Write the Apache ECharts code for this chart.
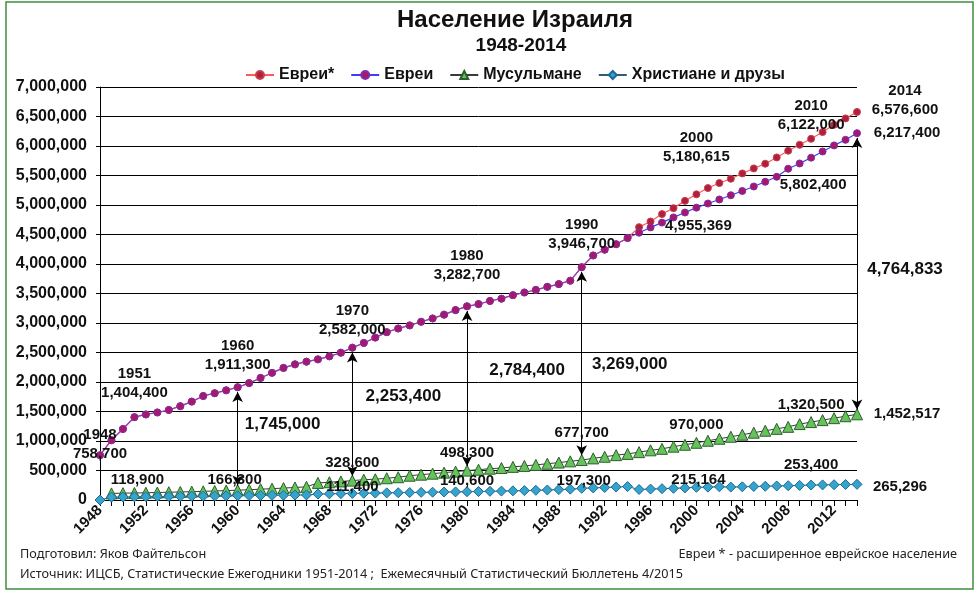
<!DOCTYPE html>
<html>
<head>
<meta charset="utf-8">
<script src="https://cdn.jsdelivr.net/npm/echarts@6/dist/echarts.min.js"></script>
<style>
  html, body { margin: 0; padding: 0; background: #fff; }
  #chart { width: 978px; height: 591px; }
</style>
</head>
<body>
<div id="chart"></div>
<script>
// ---- данные (1948-2014) ----
const years = [];
for (let y = 1948; y <= 2014; y++) years.push(String(y));

// Евреи
const jews = [
  758700, 1013900, 1203000, 1404400, 1450200, 1483600, 1526000, 1590500, 1667500, 1762700,
  1810200, 1858800, 1911300, 1981700, 2068900, 2155500, 2239200, 2299100, 2344900, 2383600,
  2434800, 2496600, 2582000, 2662000, 2752700, 2845000, 2906900, 2959400, 3020400, 3077300,
  3141200, 3218400, 3282700, 3320300, 3373200, 3412500, 3471700, 3517200, 3561400, 3612900,
  3659000, 3717100, 3946700, 4144600, 4242500, 4335200, 4441100, 4530000, 4620000, 4701600,
  4790000, 4872800, 4955369, 5025000, 5094200, 5165400, 5237600, 5313800, 5393400, 5478200,
  5615000, 5703700, 5802400, 5907500, 6010000, 6104500, 6217400
];

// Евреи* (расширенное еврейское население), отличается с 1995 г.
const jewsExtFrom1995 = [
  4625000, 4720000, 4846000, 4947000, 5070000, 5180615, 5287000, 5372000, 5445000, 5535000,
  5620000, 5700000, 5806000, 5920000, 6020000, 6122000, 6236000, 6360000, 6468000, 6576600
];

// Мусульмане (1948 - нет данных)
const muslims = [
  null, 111500, 116100, 118900, 122500, 127000, 131800, 136300, 141400, 146800,
  152800, 159200, 166300, 174000, 183000, 192000, 202000, 212400, 223000, 289600,
  300800, 314500, 328600, 344000, 352000, 368900, 385600, 411400, 429100, 446500,
  463600, 481100, 498300, 513700, 530800, 542200, 561500, 577600, 595000, 614500,
  634600, 655200, 677700, 705000, 733000, 760000, 781000, 811000, 842000, 867000,
  904000, 936000, 970000, 1004000, 1038000, 1072000, 1107000, 1141000, 1174000, 1206000,
  1240000, 1286500, 1320500, 1354000, 1387000, 1420000, 1452517
];

// Христиане и друзы
const christians = [
  0, 48500, 51000, 54000, 56500, 58500, 60500, 62500, 64500, 66500,
  68500, 70500, 72900, 75000, 77000, 79000, 81000, 84000, 86000, 101000,
  104500, 108000, 111400, 114500, 117500, 120500, 123500, 126500, 129500, 132000,
  135000, 137500, 140600, 144000, 147500, 151000, 155000, 159000, 164000, 170000,
  176000, 184000, 197300, 205000, 212000, 220000, 228000, 178000, 185000, 192000,
  198000, 205000, 215164, 218000, 224000, 219000, 224000, 229000, 233000, 238000,
  242000, 247000, 253400, 256000, 259000, 262000, 265296
];

// подписи разницы (Евреи - Мусульмане)
const gapYears = ['1960', '1970', '1980', '1990', '2014'];
const gapLabels = ['1,745,000', '2,253,400', '2,784,400', '3,269,000', '4,764,833'];

// ---- построение ----
const jewsExt = jews.map((v, i) => (i < 47 ? v : jewsExtFrom1995[i - 47]));
const idx = y => years.indexOf(String(y));
const fmt = v => Number(v).toLocaleString('en-US');

const boldFont = '"Liberation Sans", Arial, sans-serif';
const narrowFont = '"Liberation Sans Narrow", "Liberation Sans", Arial, sans-serif';

// подпись-аннотация у точки ряда
function note(data, year, withYear, offset, size) {
  const i = idx(year);
  const text = withYear ? year + '\n' + fmt(data[i]) : fmt(data[i]);
  return {
    coord: [i, data[i]],
    symbol: 'circle',
    symbolSize: 1,
    itemStyle: { color: 'rgba(0,0,0,0)' },
    label: {
      show: true,
      position: 'inside',
      offset: offset,
      formatter: text,
      color: '#111',
      fontFamily: boldFont,
      fontWeight: 'bold',
      fontSize: size || 15,
      lineHeight: 19,
      align: 'center'
    }
  };
}

const labelCommon = { silent: true, animation: false };

const jewsNotes = [
  note(jews, '1948', true, [0, -11]),
  note(jews, '1951', true, [0, -34]),
  note(jews, '1960', true, [0, -32]),
  note(jews, '1970', true, [0, -27]),
  note(jews, '1980', true, [0, -41]),
  note(jews, '1990', true, [0, -33]),
  note(jews, '2000', false, [2, 18]),
  note(jews, '2010', false, [2, 27]),
  note(jews, '2014', false, [50, 0])
];
const jewsExtNotes = [
  note(jewsExt, '2000', true, [0, -47]),
  note(jewsExt, '2010', true, [0, -23]),
  note(jewsExt, '2014', true, [48, -12])
];
const muslimNotes = [
  note(muslims, '1951', false, [3, -13]),
  note(muslims, '1960', false, [-3, -10]),
  note(muslims, '1970', false, [0, -18]),
  note(muslims, '1980', false, [0, -18]),
  note(muslims, '1990', false, [0, -27]),
  note(muslims, '2000', false, [0, -18]),
  note(muslims, '2010', false, [0, -17]),
  note(muslims, '2014', false, [50, 0])
];
const christianNotes = [
  note(christians, '1970', false, [0, -7]),
  note(christians, '1980', false, [0, -11]),
  note(christians, '1990', false, [2, -7]),
  note(christians, '2000', false, [2, -7]),
  note(christians, '2010', false, [0, -20]),
  note(christians, '2014', false, [43, 3])
];

// подписи разницы и стрелки
const gapOffsets = [[45, -14], [51, -18], [60, -18], [48, 1], [48, -4]];
const gapNotes = gapYears.map((y, k) => {
  const i = idx(y);
  return {
    coord: [i, (jews[i] + muslims[i]) / 2],
    symbol: 'circle',
    symbolSize: 1,
    itemStyle: { color: 'rgba(0,0,0,0)' },
    label: {
      show: true, position: 'inside', offset: gapOffsets[k],
      formatter: gapLabels[k], color: '#111',
      fontFamily: boldFont, fontWeight: 'bold', fontSize: 17
    }
  };
});
const gap = 80000;
const arrows = gapYears.map(y => {
  const i = idx(y);
  return [{ coord: [i, jews[i] - gap] }, { coord: [i, muslims[i] + gap] }];
});

const chart = echarts.init(document.getElementById('chart'));

chart.setOption({
  animation: false,
  backgroundColor: '#fff',
  graphic: [
    {
      type: 'rect', shape: { x: 6, y: 2, width: 967, height: 587 },
      style: { fill: 'none', stroke: '#3f8f3f', lineWidth: 1.5 }, silent: true
    },
    {
      type: 'text', x: 515, y: 20,
      style: { text: 'Население Израиля', font: 'bold 24px ' + narrowFont, fill: '#111', textAlign: 'center', textVerticalAlign: 'middle' }
    },
    {
      type: 'text', x: 521, y: 46,
      style: { text: '1948-2014', font: 'bold 19px ' + narrowFont, fill: '#111', textAlign: 'center', textVerticalAlign: 'middle' }
    },
    {
      type: 'text', x: 20, y: 554,
      style: { text: 'Подготовил: Яков Файтельсон', font: '12.7px "Noto Sans", sans-serif', fill: '#222', textVerticalAlign: 'middle' }
    },
    {
      type: 'text', x: 20, y: 574,
      style: { text: 'Источник: ИЦСБ, Статистические Ежегодники 1951-2014 ;  Ежемесячный Статистический Бюллетень 4/2015', font: '12.7px "Noto Sans", sans-serif', fill: '#222', textVerticalAlign: 'middle' }
    },
    {
      type: 'text', x: 957, y: 554,
      style: { text: 'Евреи * - расширенное еврейское население', font: '12.7px "Noto Sans", sans-serif', fill: '#222', textAlign: 'right', textVerticalAlign: 'middle' }
    }
  ],
  legend: {
    top: 62,
    left: 240,
    itemGap: 16,
    itemWidth: 28,
    itemHeight: 10,
    data: [
      { name: 'Евреи*' },
      { name: 'Евреи', lineStyle: { color: '#3c3cff' } },
      { name: 'Мусульмане' },
      { name: 'Христиане и друзы' }
    ],
    textStyle: { fontFamily: narrowFont, fontWeight: 'bold', fontSize: 16, color: '#111' }
  },
  grid: { left: 100, right: 121, top: 87, bottom: 91, containLabel: false },
  xAxis: {
    type: 'category',
    data: years,
    boundaryGap: false,
    axisLine: { lineStyle: { color: '#000', width: 1 } },
    axisTick: { show: true, interval: 0, length: 6, lineStyle: { color: '#000' } },
    axisLabel: {
      interval: 3, rotate: 45, margin: 8,
      fontFamily: boldFont, fontWeight: 'bold', fontSize: 15, color: '#111'
    },
    splitLine: { show: false }
  },
  yAxis: {
    type: 'value',
    min: 0,
    max: 7000000,
    interval: 500000,
    axisLine: { show: true, lineStyle: { color: '#000', width: 1 } },
    axisTick: { show: true, length: 4, lineStyle: { color: '#000' } },
    axisLabel: {
      formatter: v => fmt(v), margin: 13,
      fontFamily: boldFont, fontWeight: 'bold', fontSize: 16, color: '#111'
    },
    splitLine: { lineStyle: { color: '#000', width: 1 } }
  },
  series: [
    {
      name: 'Евреи*',
      type: 'line',
      data: jewsExt,
      symbol: 'circle',
      symbolSize: 7,
      showAllSymbol: true,
      lineStyle: { color: '#ff5a5a', width: 1.2 },
      itemStyle: { color: '#b0203c', borderColor: '#c84050', borderWidth: 1 },
      markPoint: Object.assign({ data: jewsExtNotes }, labelCommon)
    },
    {
      name: 'Евреи',
      type: 'line',
      data: jews,
      symbol: 'circle',
      symbolSize: 7,
      showAllSymbol: true,
      lineStyle: {
        width: 1.2,
        color: new echarts.graphic.LinearGradient(0, 0, 1, 0, [
          { offset: 0, color: '#8a3cc8' },
          { offset: 0.704, color: '#8a3cc8' },
          { offset: 0.706, color: '#3c3cff' },
          { offset: 1, color: '#3c3cff' }
        ])
      },
      itemStyle: { color: '#a8186a', borderColor: '#7a30b0', borderWidth: 1 },
      markPoint: Object.assign({ data: jewsNotes }, labelCommon)
    },
    {
      name: 'Мусульмане',
      type: 'line',
      data: muslims,
      symbol: 'triangle',
      symbolSize: 11,
      showAllSymbol: true,
      lineStyle: { color: '#3a3a3a', width: 1 },
      itemStyle: { color: '#66c25a', borderColor: '#2e5e2e', borderWidth: 1 },
      markPoint: Object.assign({ data: muslimNotes.concat(gapNotes) }, labelCommon),
      markLine: {
        silent: true,
        animation: false,
        symbol: ['arrow', 'arrow'],
        symbolSize: [8, 10],
        label: { show: false },
        lineStyle: { color: '#000', width: 1, type: 'solid' },
        data: arrows
      }
    },
    {
      name: 'Христиане и друзы',
      type: 'line',
      data: christians,
      symbol: 'diamond',
      symbolSize: 10,
      showAllSymbol: true,
      lineStyle: { color: '#2f5c78', width: 1 },
      itemStyle: { color: '#34a4cc', borderColor: '#1e6a96', borderWidth: 1 },
      markPoint: Object.assign({ data: christianNotes }, labelCommon)
    }
  ]
});
</script>
</body>
</html>
